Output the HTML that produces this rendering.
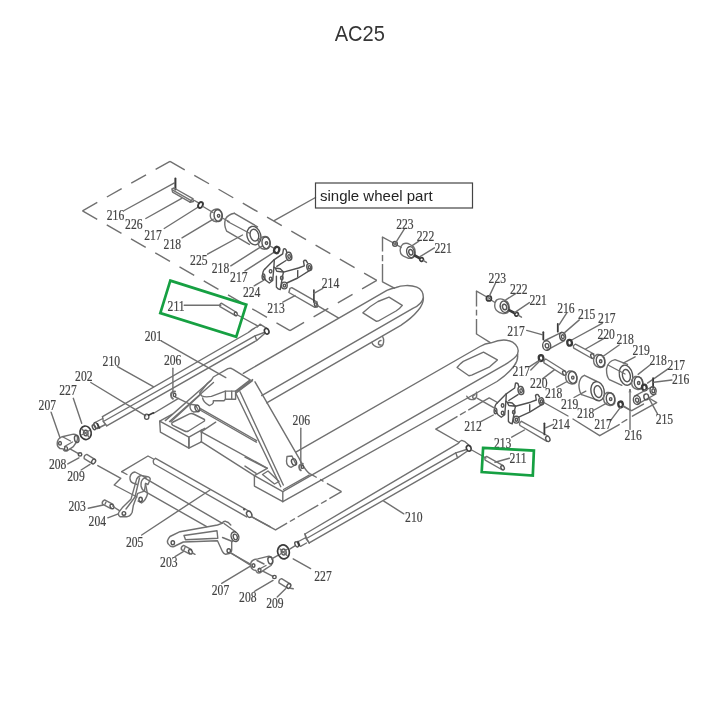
<!DOCTYPE html>
<html><head><meta charset="utf-8"><style>
html,body{margin:0;padding:0;background:#fff;}
body{width:720px;height:720px;overflow:hidden;position:relative;}
#t{position:absolute;left:0;top:17px;width:720px;text-align:center;font-family:"Liberation Sans",sans-serif;font-size:20.5px;color:#333;line-height:30px;letter-spacing:0.2px}
svg{position:absolute;left:0;top:0}
</style></head><body>
<svg width="720" height="720" viewBox="0 0 720 720">
<g>
<g fill="none" stroke="#707070" stroke-width="1.4" stroke-linecap="round" stroke-linejoin="round">
<polyline points="82.5,210.8 170.0,161.3" stroke-dasharray="17 11" stroke-width="1.4" stroke-linecap="butt"/>
<polyline points="170.0,161.3 376.8,280.4" stroke-dasharray="17 11" stroke-width="1.4" stroke-linecap="butt"/>
<polyline points="376.8,280.4 290.0,330.6" stroke-dasharray="17 11" stroke-width="1.4" stroke-linecap="butt"/>
<polyline points="82.5,210.8 290.0,330.6" stroke-dasharray="17 11" stroke-width="1.4" stroke-linecap="butt"/>
<polyline points="315.5,197.5 274.2,220.6"/>
<polyline points="124.2,210.5 174.0,183.1"/>
<polyline points="145.8,218.5 181.7,198.3"/>
<polyline points="164.2,228.5 197.5,207.5"/>
<polyline points="182.0,237.8 213.3,219.2"/>
<polyline points="207.5,254.2 242.5,235.0"/>
<polyline points="230.8,265.8 262.5,245.8"/>
<polyline points="245.0,270.8 275.0,251.7"/>
<polyline points="254.2,285.8 264.2,280.0"/>
<polyline points="175.4,178.6 175.4,189.4" stroke-width="2.0" stroke="#3a3a3a"/>
<polygon points="171.9,189.0 174.0,188.0 192.8,198.7 190.0,202.2 172.6,192.1"/>
<polyline points="173.2,190.3 191.2,200.6"/>
<polyline points="190.0,202.2 193.5,201.5 192.8,198.7"/>
<polyline points="194.5,200.5 199.0,203.2"/>
<ellipse cx="200.5" cy="205" rx="2.2" ry="3.1" transform="rotate(25 200.5 205)" stroke-width="1.9" stroke="#3a3a3a"/>
<polyline points="203.0,206.5 213.0,212.5"/>
<path d="M213.5,210 L215.5,209.2 Q221,208 222,214.5 Q222,221 216.5,221.8 L213.5,221 Q209.5,218.5 210.5,213.5 Q211.5,210.8 213.5,210 Z"/>
<ellipse cx="218.2" cy="215.6" rx="4.1" ry="5.9" transform="rotate(-10 218.2 215.6)" stroke="#555"/>
<ellipse cx="218.6" cy="215.8" rx="1.2" ry="1.4" stroke="#555"/>
<polyline points="222.3,218.0 229.0,221.5"/>
<path d="M234.4,213.3 Q228,214.5 225.5,219 Q223.5,225 226.7,231.2 L249.4,244.4"/>
<polyline points="234.4,213.3 257.5,226.8"/>
<ellipse cx="253.9" cy="235.6" rx="6.8" ry="9.4" transform="rotate(-15 253.9 235.6)" stroke="#555"/>
<ellipse cx="254.4" cy="235.1" rx="4.2" ry="6.0" transform="rotate(-15 254.4 235.1)" stroke="#555"/>
<polyline points="227.5,221.5 250.0,233.5"/>
<path d="M261.5,237.5 L263.5,236.6 Q269,235.5 270,242 Q270,248.5 264.5,249.3 L261.5,248.5 Q257.5,246 258.5,241 Q259.5,238.3 261.5,237.5 Z"/>
<ellipse cx="266.1" cy="242.9" rx="4.1" ry="5.9" transform="rotate(-10 266.1 242.9)" stroke="#555"/>
<ellipse cx="266.5" cy="243.1" rx="1.2" ry="1.4" stroke="#555"/>
<polyline points="270.0,246.0 273.8,248.2"/>
<ellipse cx="276.7" cy="250" rx="2.5" ry="3.2" transform="rotate(20 276.7 250)" stroke-width="2.3" stroke="#3a3a3a"/>
<g transform="translate(-232,-134.2)" stroke="#505050">
<path d="M497.2,403 L506.3,393.8 L514.7,388 L515.5,383.2 Q516.8,382.5 518,383.8 L518.8,386.5"/>
<path d="M508.8,400.5 L518,394.7"/>
<ellipse cx="520.9" cy="390.5" rx="2.8" ry="4.1" transform="rotate(-10 520.9 390.5)" stroke-width="1.5" stroke="#555"/>
<ellipse cx="521.1" cy="390.7" rx="1.2" ry="1.9" transform="rotate(-10 521.1 390.7)" stroke="#555"/>
<path d="M497.2,403 Q494.5,405 494.7,409.7 L498,414.7 L501.3,417.2 L504.7,414.7 L505.9,401.3 L506.3,393.8"/>
<ellipse cx="495.5" cy="410.9" rx="1.4" ry="2.8" stroke="#555"/>
<ellipse cx="502.6" cy="405.5" rx="1.3" ry="1.7" stroke="#555"/>
<ellipse cx="502.6" cy="413" rx="1.3" ry="1.7" stroke="#555"/>
<path d="M505.9,401.3 L507.2,402.2 L512.2,403 L515.5,406.3 L508.8,405.5 L507.2,402.2"/>
<path d="M508.4,410.5 L508.4,421.3 Q510,423.5 512.2,423.8 L514.7,409.7 L515.5,406.3"/>
<ellipse cx="513.8" cy="412.2" rx="1.3" ry="1.7" stroke="#555"/>
<ellipse cx="516.3" cy="419.7" rx="2.9" ry="3.4" stroke-width="1.4" stroke="#555"/>
<ellipse cx="516.4" cy="419.8" rx="1.2" ry="1.5" stroke="#555"/>
<path d="M515.5,406.3 L530.5,402.2 L536.3,400 L535.5,395.5 Q536.5,394 538,394.7 L539.5,397"/>
<path d="M518.8,417.2 L529.7,412.2 L543,403.8"/>
<polyline points="529.7,404.7 529.7,411.3"/>
<ellipse cx="541.3" cy="401.3" rx="2.5" ry="3.5" transform="rotate(-10 541.3 401.3)" stroke-width="1.4" stroke="#555"/>
<ellipse cx="541.4" cy="401.4" rx="1.1" ry="1.6" transform="rotate(-10 541.4 401.4)" stroke="#555"/>
</g>
<polygon points="290.0,288.3 291.8,287.6 317.2,302.2 316.0,306.5 314.8,307.4 288.9,292.5"/>
<ellipse cx="316.1" cy="305" rx="1.5" ry="2.2" transform="rotate(-25 316.1 305)" stroke="#555"/>
<polyline points="317.5,305.6 338.3,317.8"/>
<polyline points="313.9,290.0 313.9,302.2" stroke-width="1.6" stroke="#3a3a3a"/>
<polyline points="313.9,293.3 322.8,288.3"/>
<polyline points="282.8,302.2 295.0,295.6"/>
<polyline points="382.5,237.1 382.5,281.8" stroke-dasharray="14.4 3.6 6.1 2.9 40" stroke-width="1.4" stroke-linecap="butt"/>
<polyline points="382.5,281.8 394.4,288.2"/>
<polyline points="382.5,237.1 393.5,243.0"/>
<polyline points="397.0,245.0 401.0,247.3"/>
<ellipse cx="395" cy="243.9" rx="2.3" ry="2.3" stroke-width="1.5" stroke="#555"/>
<ellipse cx="395" cy="243.9" rx="0.9" ry="0.9" stroke-width="1.0" stroke="#555"/>
<polyline points="395.6,242.8 404.4,228.9"/>
<path d="M403,244 Q406.5,242.4 410,244.5 L413.5,246.8 Q416,250 414.8,255.5 Q412.5,259 408.5,258.3 L403.5,256.2 Q399.5,254 400.3,249 Q401,245.5 403,244 Z"/>
<ellipse cx="410.6" cy="252.2" rx="3.8" ry="5.6" transform="rotate(-15 410.6 252.2)" stroke="#555"/>
<ellipse cx="410.8" cy="252.3" rx="2.0" ry="2.8" transform="rotate(-15 410.8 252.3)" stroke-width="1.5" stroke="#555"/>
<polyline points="412.2,245.6 418.9,241.1"/>
<polyline points="414.8,255.5 419.5,258.2" stroke-width="2.6" stroke="#3a3a3a"/>
<ellipse cx="421.6" cy="259.5" rx="1.9" ry="1.7" transform="rotate(-30 421.6 259.5)" stroke-width="1.6" stroke="#3a3a3a"/>
<polyline points="423.5,260.6 426.5,262.4"/>
<polyline points="420.0,256.7 434.4,247.8"/>
<path d="M243.3,373.3 L386.9,290.3 Q391,288.5 396,287.5 C401,285.5 410,284.5 416.8,287.2 C421,289 423.4,293 423.4,297.9"/>
<path d="M423.4,297.9 C422,302 418,306 413.3,308.1 L261.7,395.6"/>
<path d="M423.4,297.9 Q423.5,304 418,310.5 Q412,318 400.8,325.3 L266.7,402.8"/>
<path d="M362.9,312.8 Q370,306 378,301.5 L389,297.2 L402.3,305.4 Q400,308.5 396,311 L381,319.5 Q378,321.5 376.5,321.3 Z" stroke-width="1.4"/>
<path d="M371.9,342.5 Q373,346 378.3,347.4 Q383,347 383.6,342.2 Q384,338.5 382.5,336.4"/>
<path d="M381,340.5 Q378,341 378.5,344 Q379.5,345.5 381,344.8"/>
<path d="M199.7,393 L207.5,383.3 L211.8,379.4 L213.3,377 L227.9,368.7 Q230.8,367.6 232.7,369.2 L250.2,379.9 L235.6,391.1 L225.4,391.1 L211.4,396.4 Q205,397.5 201.7,395.9 Z"/>
<path d="M225.4,391.1 L225.4,399.3 L235.6,399.3 L235.6,391.1 M231.7,391.1 L231.7,399.3"/>
<path d="M202.6,397.9 Q203,402 209.4,405.6 Q212.5,404.5 213.3,402.7 L213.3,400.8 L224,400.8 L225.4,399.3"/>
<polyline points="211.0,380.5 165.3,420.6"/>
<polyline points="213.5,382.5 169.5,421.5"/>
<polyline points="200.0,395.0 170.8,421.8"/>
<polygon points="159.7,421.1 188.9,437.1 188.9,448.2 160.4,432.2"/>
<polygon points="188.9,437.1 201.4,430.1 201.4,441.9 188.9,448.2"/>
<polyline points="159.7,421.1 172.0,414.3"/>
<path d="M172.2,422.5 L189.5,413.8 Q191.5,413 193.5,414 L204.5,419.5 L204.5,421 L188.5,431 Q186.5,432 184.5,431 L173,425.3 Q171,424 172.2,422.5 Z"/>
<polyline points="201.4,430.1 204.8,428.3"/>
<path d="M190.3,404.2 L195.5,405 L199,411.5 L193.5,412 Q189,410 190.3,404.2 Z"/>
<ellipse cx="197.4" cy="408.2" rx="2.3" ry="3.3" transform="rotate(-20 197.4 408.2)" stroke="#555"/>
<polyline points="175.0,396.8 190.3,404.4"/>
<path d="M175,391.6 Q170.6,392.2 171,395.5 Q171.2,397.6 172.8,398.6" stroke-width="2.0"/>
<ellipse cx="174.6" cy="395" rx="1.3" ry="1.6" stroke-width="1.4" stroke="#555"/>
<polyline points="153.3,413.5 178.5,398.4"/>
<polyline points="172.9,368.3 172.9,391.3"/>
<polyline points="200.0,410.0 256.4,442.2"/>
<polyline points="200.5,408.6 256.6,440.6"/>
<polyline points="201.1,431.9 267.1,468.1"/>
<polyline points="201.1,441.7 254.4,475.6"/>
<polyline points="201.1,431.9 215.7,422.2"/>
<polyline points="235.8,393.3 280.8,486.7"/>
<polyline points="240.0,391.7 283.3,485.0"/>
<polyline points="235.8,393.3 252.5,380.8"/>
<polyline points="236.8,391.4 252.6,379.6"/>
<path d="M255,381.8 L299.4,458.9 Q303.5,467.5 307.5,471.7 Q309.5,473.8 311.7,474.6"/>
<polygon points="254.4,475.6 282.8,491.7 282.8,501.7 254.4,486.1"/>
<polyline points="254.4,475.6 267.2,468.3"/>
<polyline points="283.5,489.5 309.2,475.2"/>
<path d="M262.5,474.5 L268,471 L279,481.5 L274.5,484 Z"/>
<polyline points="245.0,457.2 267.2,468.3"/>
<polyline points="245.0,466.1 256.1,473.3"/>
<path d="M295.8,452.1 L480,346.5 Q485,343.5 491.1,342.8 C497,340.5 505,339.5 509.2,340.8 C514,342 518.2,346 518.2,350.8 L517.5,354.3"/>
<path d="M282.8,491.7 L505,364.7 C510,361.5 515,358 517.5,354.3"/>
<path d="M282.8,501.7 L497,381.5 Q508,374 514,366 Q518.5,360 517.5,354.3"/>
<path d="M457.1,367.5 Q460,363.5 463.3,361.3 L483.5,352.2 L497.4,359.9 L489.7,366.8 L471.7,375.1 L468.9,375.8 Z" stroke-width="1.4"/>
<path d="M466.8,396.2 Q468.5,399.8 471.7,399.6 Q476,399.5 476.6,396.5 Q477,394 476.5,392.2"/>
<path d="M475,394.8 Q472.5,395 472.7,397.5 Q473.3,398.8 474.7,398.4"/>
<polyline points="311.7,474.6 341.5,491.7" stroke-dasharray="5.8 3.9 3.9 3.9 30" stroke-width="1.4" stroke-linecap="butt"/>
<polyline points="275.5,529.8 341.5,491.7" stroke-dasharray="13.4 3.2 5.8 3.2 23.8 3.2 6.4 3.2 20" stroke-width="1.4" stroke-linecap="butt"/>
<polyline points="251.7,516.9 275.5,529.8"/>
<path d="M287,456.5 L292,456 L296,464.5 L291,467.3 Q286.5,466 286.5,461 Z"/>
<ellipse cx="294" cy="462" rx="2.4" ry="3.4" transform="rotate(-20 294 462)" stroke="#555"/>
<path d="M302.8,463.8 Q298.8,464.5 299.2,467.5 Q299.4,469.5 300.8,470.3" stroke-width="2.0"/>
<ellipse cx="302.4" cy="466.9" rx="1.2" ry="1.5" stroke-width="1.4" stroke="#555"/>
<polyline points="300.8,428.3 300.8,463.0"/>
<path d="M102.5,416.7 L248.3,332.5 Q253,328.5 257.5,326.7"/>
<path d="M103.3,421.5 L255,335.8 L264.2,332.5"/>
<path d="M106.7,425.8 L256.7,340.5 L265,333.3"/>
<polyline points="255.0,335.8 256.7,340.5"/>
<path d="M257.5,326.7 L260,324.2 L266.7,328.3"/>
<ellipse cx="266.7" cy="331.25" rx="2.2" ry="2.9" transform="rotate(-20 266.7 331.25)" stroke-width="1.6" stroke="#3a3a3a"/>
<polyline points="184.2,305.3 220.8,305.3"/>
<path d="M221.7,303.3 L236.7,312.5 M220,306.7 L235,315.4 M221.7,303.3 Q219,304 220,306.7"/>
<ellipse cx="235.8" cy="313.9" rx="1.4" ry="1.9" transform="rotate(-30 235.8 313.9)" stroke="#555"/>
<polyline points="237.5,315.0 257.5,325.8"/>
<polyline points="161.2,340.8 225.8,377.6"/>
<polyline points="102.5,416.7 103.3,421.5 106.7,425.8"/>
<path d="M102.8,418.5 L95,422.5 M105.5,424.5 L97.5,428.5"/>
<ellipse cx="96" cy="425.5" rx="1.8" ry="3.2" transform="rotate(-25 96 425.5)" stroke="#555"/>
<polyline points="97.5,423.8 99.5,428.0" stroke-width="1.6" stroke="#3a3a3a"/>
<ellipse cx="94" cy="427.2" rx="1.5" ry="2.6" transform="rotate(-25 94 427.2)" stroke="#555"/>
<polyline points="117.5,366.7 153.3,386.7"/>
<polyline points="90.8,382.5 145.8,415.8"/>
<ellipse cx="146.7" cy="416.7" rx="2.2" ry="2.6" stroke-width="1.3" stroke="#555"/>
<polyline points="148.5,415.3 153.5,412.8" stroke-width="1.6" stroke="#3a3a3a"/>
<polyline points="73.3,398.3 81.7,423.3"/>
<ellipse cx="85.6" cy="432.8" rx="5.6" ry="6.8" transform="rotate(-10 85.6 432.8)" stroke-width="1.6" stroke="#3a3a3a"/>
<ellipse cx="85.8" cy="433" rx="2.2" ry="2.8" transform="rotate(-10 85.8 433)" stroke="#555"/>
<polyline points="82.0,429.0 89.0,437.0"/>
<polyline points="81.5,435.0 89.5,430.5"/>
<polyline points="51.1,412.2 60.0,437.8"/>
<path d="M57.2,443.3 Q57.5,438.5 62.2,436.7 L72.2,434.4 Q75,433.8 76.7,435.5 Q78.5,438 76.5,442 L73.3,446.7 L66.7,451.1 Q63.5,451.5 63.3,448.9 L60,448.5 Q57,447 57.2,443.3 Z"/>
<ellipse cx="76.7" cy="438.9" rx="2.2" ry="3.6" transform="rotate(-10 76.7 438.9)" stroke="#555"/>
<polyline points="63.0,437.0 70.5,441.0"/>
<polyline points="64.5,446.5 72.5,442.0"/>
<ellipse cx="60" cy="443.3" rx="1.4" ry="1.8" stroke="#555"/>
<ellipse cx="66" cy="448.5" rx="1.5" ry="1.9" stroke="#555"/>
<polyline points="70.0,448.9 78.9,453.9"/>
<ellipse cx="80" cy="454.4" rx="1.8" ry="1.6" stroke-width="1.4" stroke="#555"/>
<path d="M86.8,454.4 L94.9,459.4 M84.2,458.6 L92.3,463.6 M86.8,454.4 Q83.6,455.3 84.2,458.6"/>
<ellipse cx="93.6" cy="461.5" rx="1.8" ry="2.5" transform="rotate(32 93.6 461.5)" stroke="#555"/>
<polyline points="67.8,463.9 78.9,457.8"/>
<polyline points="81.1,470.0 90.0,464.4"/>
<polyline points="97.8,465.6 120.0,477.8"/>
<polyline points="120.8,478.3 114.2,485.0 137.0,497.0"/>
<polyline points="121.7,471.7 148.0,456.0 153.5,459.0"/>
<polyline points="121.7,471.7 127.0,474.5"/>
<path d="M155.6,458.3 L249.5,511.5 M154,464 L246.7,516.9 M155.6,458.3 Q152,459.5 154,464"/>
<ellipse cx="249.2" cy="514.3" rx="2.4" ry="3.3" transform="rotate(-30 249.2 514.3)" stroke="#555"/>
<ellipse cx="244.2" cy="509.2" rx="0.6" ry="0.6" stroke-width="1.2" stroke="#555"/>
<polyline points="251.7,516.7 270.0,526.7"/>
<path d="M144.4,477.8 L222,523.2 M144.4,491.1 L206.7,526.7"/>
<path d="M130,477 Q131,472.5 135,472 L146.5,478 M130,477 Q129.5,481.5 133,483 L137,484.5"/>
<path d="M144.4,477.8 Q140.5,480 141,486 Q142,490 144.4,491.1"/>
<path d="M136.7,478.9 Q139,475.2 142.2,475.6 L147.8,476.7 Q151,478 150,480 L148,484.5 L145.6,483.3 L144.4,491.1 L137.8,493.3 L133.3,505.6 L132.2,512.2 Q130,516.7 126.7,516.7 L120,516.7 Q117.5,515 118.9,512.2 L122.2,507.8 L131.1,498.9 L136.7,478.9 Z"/>
<polyline points="139.5,478.0 135.0,497.0 126.0,509.0"/>
<path d="M145.5,484 L147.5,494 Q146,500 141.5,503 L138,501"/>
<ellipse cx="140.6" cy="499.5" rx="1.7" ry="2.2" stroke="#555"/>
<ellipse cx="123.9" cy="513.4" rx="1.8" ry="1.8" stroke="#555"/>
<path d="M104.6,499.9 L113.1,504.4 M102.4,504.1 L110.9,508.6 M104.6,499.9 Q101.5,501.5 102.4,504.1"/>
<ellipse cx="112" cy="506.5" rx="1.7" ry="2.4" transform="rotate(-30 112 506.5)" stroke="#555"/>
<polyline points="106.0,502.0 105.0,504.3"/>
<polyline points="113.0,506.5 119.4,510.6"/>
<polyline points="88.3,508.3 103.3,505.0"/>
<polyline points="107.8,517.8 118.3,513.9"/>
<polyline points="141.7,535.0 210.0,490.0"/>
<path d="M222,523.3 L217.5,525 L180,531.7 L170,536.5 Q166,541 168.3,544 Q170.5,547.5 174,546.5 L183.3,542 L217.5,540.8 L222.5,551.7 Q224,554.5 225.8,554.2 L230,553.3 Q231.8,552 231.7,550 L231.7,541.7"/>
<path d="M222,523.3 Q223.5,521 225.5,521.3 L228.3,522.5 L230.8,525"/>
<path d="M224,523.5 L235.5,531.8 M222.5,537.5 L232.5,541.5"/>
<ellipse cx="235" cy="536.7" rx="3.75" ry="5.0" transform="rotate(-20 235 536.7)" stroke="#555"/>
<ellipse cx="235.3" cy="537" rx="1.9" ry="2.9" transform="rotate(-20 235.3 537)" stroke="#555"/>
<path d="M184,535.5 L217,530.8 L217.8,538.3 L185.5,539.8 Z"/>
<ellipse cx="228.75" cy="550.8" rx="1.7" ry="2.0" stroke="#555"/>
<ellipse cx="172.8" cy="542.8" rx="1.7" ry="2.0" stroke="#555"/>
<path d="M183.6,545.4 L191.6,549.7 M181.4,549.6 L189.4,553.9 M183.6,545.4 Q180.5,547 181.4,549.6"/>
<ellipse cx="190.5" cy="551.8" rx="1.7" ry="2.4" transform="rotate(-30 190.5 551.8)" stroke="#555"/>
<polyline points="185.0,547.5 184.0,549.8"/>
<polyline points="192.3,552.8 195.0,554.3"/>
<polyline points="175.0,556.7 183.3,551.7"/>
<polyline points="231.7,553.3 250.0,565.0"/>
<polyline points="230.0,552.6 250.8,564.4"/>
<path d="M250.8,565.8 Q250,561 254.5,559.5 L257.8,558.9 L268.9,556.1 Q271.5,556 272.5,558.5 Q273.5,562 271,565.5 L266.1,568.6 L259.9,572.8 Q256.5,573.5 256,570.5 L253.5,569.8 Q250.8,568.5 250.8,565.8 Z"/>
<ellipse cx="270.3" cy="560.5" rx="2.3" ry="3.6" transform="rotate(-15 270.3 560.5)" stroke="#555"/>
<polyline points="257.0,560.5 264.0,564.0"/>
<polyline points="258.5,569.5 266.0,565.5"/>
<ellipse cx="253.5" cy="565.5" rx="1.4" ry="1.8" stroke="#555"/>
<ellipse cx="259.5" cy="570" rx="1.5" ry="1.9" stroke="#555"/>
<polyline points="271.7,558.9 277.9,555.4"/>
<ellipse cx="283.5" cy="551.9" rx="5.8" ry="7.0" transform="rotate(-15 283.5 551.9)" stroke-width="1.7" stroke="#3a3a3a"/>
<ellipse cx="283.7" cy="552" rx="2.4" ry="3.0" transform="rotate(-15 283.7 552)" stroke="#555"/>
<polyline points="280.0,549.0 287.0,555.5"/>
<polyline points="279.8,554.5 287.5,549.0"/>
<polyline points="289.7,549.2 295.3,545.7"/>
<ellipse cx="296.7" cy="544.3" rx="1.6" ry="2.8" transform="rotate(-25 296.7 544.3)" stroke="#555"/>
<polyline points="298.0,541.5 299.5,545.5" stroke-width="1.8" stroke="#3a3a3a"/>
<path d="M299.4,541 L305,538 M300.5,546.3 L306.5,543"/>
<polyline points="305.0,533.9 306.0,538.5 309.2,542.9"/>
<polyline points="293.2,558.9 310.6,568.6"/>
<polyline points="221.7,583.3 250.8,565.8"/>
<polyline points="263.3,571.4 273.0,576.3"/>
<ellipse cx="274.4" cy="577" rx="1.8" ry="1.6" stroke-width="1.4" stroke="#555"/>
<path d="M281.6,578.7 L290.1,583.9 M279.0,582.9 L287.5,588.1 M281.6,578.7 Q278.4,579.7 279.0,582.9"/>
<ellipse cx="288.8" cy="586" rx="1.8" ry="2.5" transform="rotate(31 288.8 586)" stroke="#555"/>
<polyline points="290.5,588.2 293.2,588.8"/>
<polyline points="254.3,591.5 273.0,580.4"/>
<polyline points="277.2,597.1 285.6,588.8"/>
<path d="M305,534 L458.3,443.3 Q459.5,441 461.7,440.4 L465,441.7 L470.8,446.7"/>
<path d="M306.5,538.5 L455.8,452.8 L466.5,449.5"/>
<path d="M309.2,542.9 L457.5,457.8 L467.5,451"/>
<polyline points="455.8,452.8 457.5,457.8"/>
<polyline points="305.0,534.0 306.5,538.5 309.2,542.9"/>
<ellipse cx="468.75" cy="448.3" rx="2.3" ry="3.0" transform="rotate(-20 468.75 448.3)" stroke-width="1.6" stroke="#3a3a3a"/>
<polyline points="471.7,450.0 486.0,458.0"/>
<polyline points="403.8,513.8 383.8,501.2"/>
<polyline points="435.8,429.2 459.2,442.5"/>
<polyline points="435.8,429.2 481.7,402.1" stroke-dasharray="25.2 2.9 6.7 2.9 30" stroke-width="1.4" stroke-linecap="butt"/>
<polyline points="481.7,402.1 489.2,397.9 497.5,402.5"/>
<polyline points="476.5,291.1 476.5,334.0" stroke-dasharray="15.5 3.2 5.8 3.3 40" stroke-width="1.4" stroke-linecap="butt"/>
<polyline points="476.5,334.0 489.9,342.4"/>
<polyline points="476.5,291.1 486.0,296.5"/>
<polyline points="491.0,300.0 495.0,302.5"/>
<ellipse cx="488.9" cy="298.4" rx="2.5" ry="2.5" stroke-width="1.7" stroke="#3a3a3a"/>
<ellipse cx="488.9" cy="298.4" rx="0.9" ry="0.9" stroke-width="1.0" stroke="#555"/>
<polyline points="489.2,296.4 495.4,283.2"/>
<path d="M496.8,299.9 Q500,298 503.5,299.6 L507,301.5 Q510,304.5 509.3,310.5 Q507.5,314 503,313.6 L499.5,312.5 Q495,310.5 494.7,306 Q494.8,301.5 496.8,299.9 Z"/>
<ellipse cx="504.4" cy="306.8" rx="4.1" ry="5.8" transform="rotate(-15 504.4 306.8)" stroke="#555"/>
<ellipse cx="504.6" cy="307" rx="2.1" ry="2.8" transform="rotate(-15 504.6 307)" stroke-width="1.5" stroke="#555"/>
<polyline points="505.8,299.9 515.6,293.6"/>
<polyline points="509.5,310.3 514.5,313.0" stroke-width="2.6" stroke="#3a3a3a"/>
<ellipse cx="516.6" cy="314.3" rx="1.9" ry="1.7" transform="rotate(-30 516.6 314.3)" stroke-width="1.6" stroke="#3a3a3a"/>
<polyline points="518.5,315.4 521.5,317.2"/>
<polyline points="514.9,312.4 529.4,302.6"/>
<polyline points="526.7,330.4 541.9,334.6"/>
<polyline points="543.3,332.2 543.3,339.4" stroke-width="1.8" stroke="#3a3a3a"/>
<path d="M544,341 L561.5,332.3 M546.5,350.3 L564.5,340.6"/>
<ellipse cx="546.7" cy="345.6" rx="4.0" ry="4.8" transform="rotate(-10 546.7 345.6)" stroke="#555"/>
<ellipse cx="547" cy="345.8" rx="1.8" ry="2.2" transform="rotate(-10 547 345.8)" stroke="#555"/>
<ellipse cx="562.6" cy="336.5" rx="2.9" ry="4.0" transform="rotate(-10 562.6 336.5)" stroke="#555"/>
<ellipse cx="562.8" cy="336.7" rx="1.4" ry="2.0" transform="rotate(-10 562.8 336.7)" stroke="#555"/>
<polyline points="557.8,324.0 557.8,331.7" stroke-width="1.8" stroke="#3a3a3a"/>
<polyline points="566.8,312.9 559.2,324.7"/>
<polyline points="579.3,319.9 564.0,333.1"/>
<polyline points="602.2,323.3 571.7,340.0"/>
<ellipse cx="569.6" cy="342.8" rx="2.3" ry="2.9" transform="rotate(-10 569.6 342.8)" stroke-width="2.3" stroke="#3a3a3a"/>
<path d="M575.5,344.2 L594,354 M573.8,348.2 L592,358.5 M575.5,344.2 Q572.5,345.5 573.8,348.2"/>
<ellipse cx="592.5" cy="356.1" rx="1.6" ry="2.4" transform="rotate(-25 592.5 356.1)" stroke="#555"/>
<polyline points="605.0,337.9 585.6,349.0"/>
<path d="M597,354.5 Q600.5,353.8 603,356 Q606,360 604.5,365.5 Q602.5,368 599,367.3 L596.5,366.3 Q593,364 593.7,358.5 Q594.5,355.5 597,354.5 Z"/>
<ellipse cx="600.5" cy="361" rx="4.2" ry="6.0" transform="rotate(-10 600.5 361)" stroke="#555"/>
<ellipse cx="600.7" cy="361.2" rx="1.2" ry="1.5" stroke="#555"/>
<polyline points="619.2,345.0 602.5,356.8"/>
<path d="M615,359.6 L627.5,364.4 M609.4,379.7 L621.9,385.3 M615,359.6 Q608,361 606.5,369 Q606.5,377 609.4,379.7"/>
<ellipse cx="626" cy="375.2" rx="6.6" ry="10.2" transform="rotate(-12 626 375.2)" stroke="#555"/>
<ellipse cx="626.4" cy="375.6" rx="3.9" ry="6.2" transform="rotate(-12 626.4 375.6)" stroke="#555"/>
<polyline points="608.0,365.0 625.0,374.0"/>
<polyline points="635.1,356.8 623.3,363.1"/>
<path d="M635,376.5 Q638.5,375.8 641,378 Q644,382 642.5,387.5 Q640.5,390 637,389.3 L634.5,388.3 Q631,386 631.7,380.5 Q632.5,377.5 635,376.5 Z"/>
<ellipse cx="638.5" cy="382.8" rx="4.2" ry="6.0" transform="rotate(-10 638.5 382.8)" stroke="#555"/>
<ellipse cx="638.7" cy="383" rx="1.2" ry="1.5" stroke="#555"/>
<polyline points="650.0,365.0 638.1,374.4"/>
<ellipse cx="644.4" cy="387.5" rx="2.3" ry="2.9" transform="rotate(-10 644.4 387.5)" stroke-width="2.3" stroke="#3a3a3a"/>
<polyline points="668.1,368.8 647.5,383.1"/>
<polyline points="653.1,378.1 653.1,387.5" stroke-width="1.8" stroke="#3a3a3a"/>
<polyline points="671.9,380.0 653.8,382.2"/>
<path d="M634.5,396.2 L651.5,387 M637.5,404.2 L656,394"/>
<ellipse cx="636.9" cy="400" rx="3.5" ry="4.5" transform="rotate(-10 636.9 400)" stroke="#555"/>
<ellipse cx="637.1" cy="400.2" rx="1.6" ry="2.1" transform="rotate(-10 637.1 400.2)" stroke="#555"/>
<ellipse cx="653.1" cy="390.6" rx="3.0" ry="4.0" transform="rotate(-10 653.1 390.6)" stroke="#555"/>
<ellipse cx="653.3" cy="390.8" rx="1.4" ry="1.9" transform="rotate(-10 653.3 390.8)" stroke="#555"/>
<ellipse cx="646.25" cy="396.9" rx="2.4" ry="3.0" transform="rotate(-10 646.25 396.9)" stroke="#555"/>
<polyline points="657.5,413.8 648.8,398.1"/>
<polyline points="530.0,366.4 539.7,360.1"/>
<ellipse cx="541.1" cy="358.1" rx="2.3" ry="2.9" transform="rotate(-10 541.1 358.1)" stroke-width="2.3" stroke="#3a3a3a"/>
<path d="M545.8,359 L565,371 M544,362.8 L563.2,375 M545.8,359 Q543,360.5 544,362.8"/>
<ellipse cx="564.4" cy="373" rx="1.6" ry="2.4" transform="rotate(-25 564.4 373)" stroke="#555"/>
<polyline points="542.5,378.9 554.3,369.9"/>
<path d="M569,371 Q572.5,370.3 575,372.5 Q578,376.5 576.5,382 Q574.5,384.5 571,383.8 L568.5,382.8 Q565,380.5 565.7,375 Q566.5,372 569,371 Z"/>
<ellipse cx="572.6" cy="377.4" rx="4.2" ry="6.0" transform="rotate(-10 572.6 377.4)" stroke="#555"/>
<ellipse cx="572.8" cy="377.6" rx="1.2" ry="1.5" stroke="#555"/>
<polyline points="556.7,387.1 567.1,381.5"/>
<path d="M584.4,375.3 L597,381.5 M581.7,394.7 L598.3,400.3 M584.4,375.3 Q579.5,377 578.9,385 Q579.2,392 581.7,394.7"/>
<ellipse cx="597.6" cy="391.25" rx="6.6" ry="9.7" transform="rotate(-12 597.6 391.25)" stroke="#555"/>
<ellipse cx="598" cy="391.6" rx="3.8" ry="6.0" transform="rotate(-12 598 391.6)" stroke="#555"/>
<polyline points="574.0,397.5 585.8,391.2"/>
<path d="M607,392.5 Q610.5,391.8 613,394 Q616,398 614.5,403.5 Q612.5,406 609,405.3 L606.5,404.3 Q603,402 603.7,396.5 Q604.5,393.5 607,392.5 Z"/>
<ellipse cx="610.5" cy="398.9" rx="4.2" ry="6.0" transform="rotate(-10 610.5 398.9)" stroke="#555"/>
<ellipse cx="610.7" cy="399.1" rx="1.2" ry="1.5" stroke="#555"/>
<polyline points="594.2,410.0 606.7,403.1"/>
<ellipse cx="620.6" cy="404.4" rx="2.3" ry="2.9" transform="rotate(-10 620.6 404.4)" stroke-width="2.3" stroke="#3a3a3a"/>
<polyline points="610.1,421.1 620.6,407.2"/>
<polyline points="623.3,405.8 630.3,410.0"/>
<polyline points="630.0,390.0 630.0,429.4" stroke-width="1.4"/>
<path d="M629.2,392 L630,389 L630.8,392" stroke-width="1.0"/>
<path d="M543,402 L568,416"/>
<path d="M573,419 L599.7,435.7 L619.2,424.6"/>
<polyline points="622.0,422.5 626.8,419.7"/>
<polyline points="632.4,416.2 656.7,402.7 649.7,398.5"/>
<path d="M623.3,406.5 L629.6,410 L631.7,410.7 L643.5,404.1"/>
<g stroke="#505050">
<path d="M497.2,403 L506.3,393.8 L514.7,388 L515.5,383.2 Q516.8,382.5 518,383.8 L518.8,386.5"/>
<path d="M508.8,400.5 L518,394.7"/>
<ellipse cx="520.9" cy="390.5" rx="2.8" ry="4.1" transform="rotate(-10 520.9 390.5)" stroke-width="1.5" stroke="#555"/>
<ellipse cx="521.1" cy="390.7" rx="1.2" ry="1.9" transform="rotate(-10 521.1 390.7)" stroke="#555"/>
<path d="M497.2,403 Q494.5,405 494.7,409.7 L498,414.7 L501.3,417.2 L504.7,414.7 L505.9,401.3 L506.3,393.8"/>
<ellipse cx="495.5" cy="410.9" rx="1.4" ry="2.8" stroke="#555"/>
<ellipse cx="502.6" cy="405.5" rx="1.3" ry="1.7" stroke="#555"/>
<ellipse cx="502.6" cy="413" rx="1.3" ry="1.7" stroke="#555"/>
<path d="M505.9,401.3 L507.2,402.2 L512.2,403 L515.5,406.3 L508.8,405.5 L507.2,402.2"/>
<path d="M508.4,410.5 L508.4,421.3 Q510,423.5 512.2,423.8 L514.7,409.7 L515.5,406.3"/>
<ellipse cx="513.8" cy="412.2" rx="1.3" ry="1.7" stroke="#555"/>
<ellipse cx="516.3" cy="419.7" rx="2.9" ry="3.4" stroke-width="1.4" stroke="#555"/>
<ellipse cx="516.4" cy="419.8" rx="1.2" ry="1.5" stroke="#555"/>
<path d="M515.5,406.3 L530.5,402.2 L536.3,400 L535.5,395.5 Q536.5,394 538,394.7 L539.5,397"/>
<path d="M518.8,417.2 L529.7,412.2 L543,403.8"/>
<polyline points="529.7,404.7 529.7,411.3"/>
<ellipse cx="541.3" cy="401.3" rx="2.5" ry="3.5" transform="rotate(-10 541.3 401.3)" stroke-width="1.4" stroke="#555"/>
<ellipse cx="541.4" cy="401.4" rx="1.1" ry="1.6" transform="rotate(-10 541.4 401.4)" stroke="#555"/>
</g>
<polyline points="477.5,398.3 495.0,408.3"/>
<polyline points="480.8,421.7 493.3,415.0"/>
<path d="M521.5,421.3 L548,436 M520,425.5 L546.5,441.2 M521.5,421.3 Q518.5,423 520,425.5"/>
<ellipse cx="547.8" cy="438.9" rx="2.0" ry="2.8" transform="rotate(-25 547.8 438.9)" stroke="#555"/>
<polyline points="544.4,423.3 544.4,434.4" stroke-width="1.8" stroke="#3a3a3a"/>
<polyline points="553.3,424.4 545.6,427.8"/>
<polyline points="511.7,437.2 524.4,430.0"/>
<polyline points="509.4,458.3 495.0,462.2"/>
<path d="M486.6,456.4 L503.2,465.7 M485.2,460.2 L501.6,469.5 M486.6,456.4 Q484,457.5 485.2,460.2"/>
<ellipse cx="502.6" cy="467.7" rx="1.6" ry="2.3" transform="rotate(-25 502.6 467.7)" stroke="#555"/>
<polyline points="530.8,370.0 540.0,360.8"/>
</g>
<g font-family="Liberation Serif, serif" fill="#404040" stroke="#404040" stroke-width="0.2" opacity="0.99">
<text transform="translate(106.8,219.7) scale(0.8,1)" font-size="14.5">216</text>
<text transform="translate(125.1,228.9) scale(0.8,1)" font-size="14.5">226</text>
<text transform="translate(144.3,239.7) scale(0.8,1)" font-size="14.5">217</text>
<text transform="translate(163.6,248.5) scale(0.8,1)" font-size="14.5">218</text>
<text transform="translate(190.1,264.7) scale(0.8,1)" font-size="14.5">225</text>
<text transform="translate(211.8,273.2) scale(0.8,1)" font-size="14.5">218</text>
<text transform="translate(230.1,282.0) scale(0.8,1)" font-size="14.5">217</text>
<text transform="translate(242.9,296.7) scale(0.8,1)" font-size="14.5">224</text>
<text transform="translate(321.8,287.5) scale(0.8,1)" font-size="14.5">214</text>
<text transform="translate(267.3,313.0) scale(0.8,1)" font-size="14.5">213</text>
<text transform="translate(396.2,229.1) scale(0.8,1)" font-size="14.5">223</text>
<text transform="translate(416.8,240.8) scale(0.8,1)" font-size="14.5">222</text>
<text transform="translate(434.5,253.0) scale(0.8,1)" font-size="14.5">221</text>
<text transform="translate(164.0,364.5) scale(0.8,1)" font-size="14.5">206</text>
<text transform="translate(292.6,424.7) scale(0.8,1)" font-size="14.5">206</text>
<text transform="translate(167.6,310.5) scale(0.8,1)" font-size="14.5">211</text>
<text transform="translate(144.7,340.8) scale(0.8,1)" font-size="14.5">201</text>
<text transform="translate(102.6,365.5) scale(0.8,1)" font-size="14.5">210</text>
<text transform="translate(75.1,381.4) scale(0.8,1)" font-size="14.5">202</text>
<text transform="translate(59.3,394.7) scale(0.8,1)" font-size="14.5">227</text>
<text transform="translate(38.6,409.7) scale(0.8,1)" font-size="14.5">207</text>
<text transform="translate(49.0,468.6) scale(0.8,1)" font-size="14.5">208</text>
<text transform="translate(67.3,480.8) scale(0.8,1)" font-size="14.5">209</text>
<text transform="translate(68.4,511.4) scale(0.8,1)" font-size="14.5">203</text>
<text transform="translate(88.6,526.2) scale(0.8,1)" font-size="14.5">204</text>
<text transform="translate(125.9,547.2) scale(0.8,1)" font-size="14.5">205</text>
<text transform="translate(160.1,567.2) scale(0.8,1)" font-size="14.5">203</text>
<text transform="translate(314.3,581.4) scale(0.8,1)" font-size="14.5">227</text>
<text transform="translate(211.8,594.7) scale(0.8,1)" font-size="14.5">207</text>
<text transform="translate(239.1,601.9) scale(0.8,1)" font-size="14.5">208</text>
<text transform="translate(266.2,608.2) scale(0.8,1)" font-size="14.5">209</text>
<text transform="translate(405.1,522.2) scale(0.8,1)" font-size="14.5">210</text>
<text transform="translate(488.6,283.2) scale(0.8,1)" font-size="14.5">223</text>
<text transform="translate(510.1,293.6) scale(0.8,1)" font-size="14.5">222</text>
<text transform="translate(529.5,304.7) scale(0.8,1)" font-size="14.5">221</text>
<text transform="translate(507.3,336.0) scale(0.8,1)" font-size="14.5">217</text>
<text transform="translate(557.2,312.9) scale(0.8,1)" font-size="14.5">216</text>
<text transform="translate(578.0,319.1) scale(0.8,1)" font-size="14.5">215</text>
<text transform="translate(598.1,322.6) scale(0.8,1)" font-size="14.5">217</text>
<text transform="translate(597.5,339.3) scale(0.8,1)" font-size="14.5">220</text>
<text transform="translate(616.5,343.6) scale(0.8,1)" font-size="14.5">218</text>
<text transform="translate(632.5,354.7) scale(0.8,1)" font-size="14.5">219</text>
<text transform="translate(649.5,364.7) scale(0.8,1)" font-size="14.5">218</text>
<text transform="translate(667.6,369.7) scale(0.8,1)" font-size="14.5">217</text>
<text transform="translate(672.0,384.1) scale(0.8,1)" font-size="14.5">216</text>
<text transform="translate(655.7,424.1) scale(0.8,1)" font-size="14.5">215</text>
<text transform="translate(530.1,387.9) scale(0.8,1)" font-size="14.5">220</text>
<text transform="translate(545.0,397.5) scale(0.8,1)" font-size="14.5">218</text>
<text transform="translate(560.9,409.3) scale(0.8,1)" font-size="14.5">219</text>
<text transform="translate(576.9,418.3) scale(0.8,1)" font-size="14.5">218</text>
<text transform="translate(594.3,428.7) scale(0.8,1)" font-size="14.5">217</text>
<text transform="translate(624.5,439.7) scale(0.8,1)" font-size="14.5">216</text>
<text transform="translate(464.3,430.5) scale(0.8,1)" font-size="14.5">212</text>
<text transform="translate(552.3,429.4) scale(0.8,1)" font-size="14.5">214</text>
<text transform="translate(494.0,448.2) scale(0.8,1)" font-size="14.5">213</text>
<text transform="translate(509.5,462.5) scale(0.8,1)" font-size="14.5">211</text>
<text transform="translate(512.6,376.4) scale(0.8,1)" font-size="14.5">217</text>
</g>
<rect x="315.5" y="183" width="157" height="25" fill="none" stroke="#444" stroke-width="1.2"/>
<g opacity="0.99"><text x="320" y="200.5" font-family="Liberation Sans, sans-serif" font-size="15" fill="#222">single wheel part</text>
<text transform="translate(359.8,40.9) scale(0.93,1)" text-anchor="middle" font-family="Liberation Sans, sans-serif" font-size="21.6" fill="#333">AC25</text></g>
<g fill="none" stroke="#16a042" stroke-width="2.7" stroke-linejoin="miter">
<polygon points="170.3,280.6 246.3,304.7 236.2,336.8 160.3,313"/>
<polygon points="483.1,447.8 533.9,450.6 532.8,475.6 481.7,472"/>
</g>
</g>
</svg>
</body></html>
